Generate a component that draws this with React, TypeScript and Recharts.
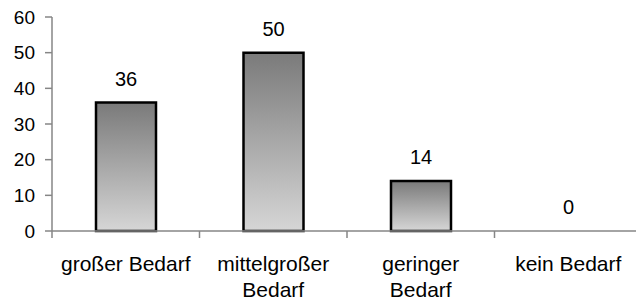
import React from 'react'
import { BarChart, Bar, XAxis, YAxis, LabelList, Rectangle } from 'recharts'

// categories (line breaks as in the source chart)
const categories = ['großer Bedarf', 'mittelgroßer\nBedarf', 'geringer\nBedarf', 'kein Bedarf']
const values = [36, 50, 14, 0]
const yTicks = [0, 10, 20, 30, 40, 50, 60]
const boundaryTicks = [0, 1, 2, 3, 4]

const data = categories.map((name, i) => ({ name, value: values[i], pos: i + 0.5 }))

const AXIS_GRAY = '#868686'
const FONT = '"Liberation Sans", Arial, sans-serif'

/* category label, wrapped on \n */
const CategoryTick = (props: any) => {
    const { x, y, payload } = props
    const lines = String(payload.value).split('\n')
    return (
        <text x={x} y={y + 24} textAnchor="middle" fontSize={21} fill="#000" fontFamily={FONT}>
            {lines.map((l, i) => (
                <tspan key={i} x={x} dy={i === 0 ? '0.71em' : 26}>{l}</tspan>
            ))}
        </text>
    )
}

// zero bars keep their label but draw no rectangle
const BarShape = (props: any) => {
    if (!props.value) return <g />
    return <Rectangle {...props} />
}

export default function App() {
    return (
        <div style={{ position: 'absolute', left: 0, top: 0, width: 636, height: 305, overflow: 'hidden', background: '#fff', fontFamily: FONT }}>
            <BarChart width={648} height={305} data={data} margin={{ top: 17, right: 6, bottom: 0, left: 0 }}>
                <defs>
                    <linearGradient id="barGrad" x1="0" y1="0" x2="0" y2="1">
                        <stop offset="0%" stopColor="#7a7a7a" />
                        <stop offset="100%" stopColor="#d6d6d6" />
                    </linearGradient>
                </defs>

                {/* boundary ticks between categories */}
                <XAxis
                    xAxisId="a"
                    type="number"
                    dataKey="pos"
                    domain={[0, 4]}
                    ticks={boundaryTicks}
                    allowDataOverflow
                    height={1}
                    tick={() => <g />}
                    tickSize={7}
                    axisLine={{ stroke: AXIS_GRAY, strokeWidth: 1.5 }}
                    tickLine={{ stroke: AXIS_GRAY, strokeWidth: 1.5 }}
                />
                {/* category labels */}
                <XAxis
                    xAxisId="b"
                    dataKey="name"
                    height={73}
                    axisLine={false}
                    tickLine={false}
                    tickSize={0}
                    tickMargin={0}
                    interval={0}
                    tick={<CategoryTick />}
                />
                <YAxis
                    domain={[0, 60]}
                    ticks={yTicks}
                    width={52}
                    tickSize={7}
                    tickMargin={10}
                    axisLine={{ stroke: AXIS_GRAY, strokeWidth: 1.5 }}
                    tickLine={{ stroke: AXIS_GRAY, strokeWidth: 1.5 }}
                    tick={{ fill: '#000', fontSize: 19, fontFamily: FONT }}
                />
                <Bar
                    xAxisId="b"
                    dataKey="value"
                    barSize={60}
                    minPointSize={0.01}
                    fill="url(#barGrad)"
                    stroke="#000"
                    strokeWidth={2.5}
                    shape={<BarShape />}
                    isAnimationActive={false}
                >
                    <LabelList dataKey="value" position="top" offset={17} fill="#000" fontSize={20} fontFamily={FONT} />
                </Bar>
            </BarChart>
        </div>
    )
}
